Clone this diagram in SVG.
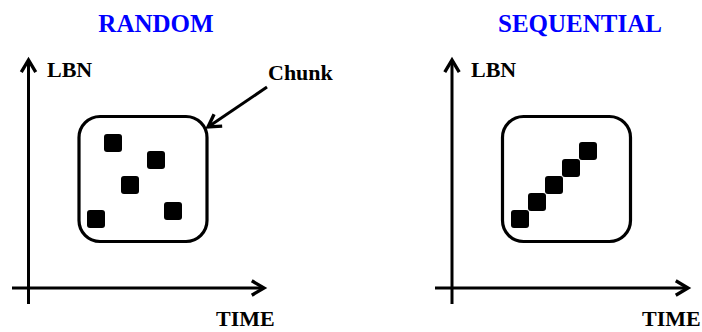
<svg xmlns="http://www.w3.org/2000/svg" width="702" height="332" viewBox="0 0 702 332">
<style>
.title{font-family:"Liberation Serif","Times New Roman",serif;font-weight:bold;font-size:25px;fill:#0000FF}
.lbl{font-family:"Liberation Serif","Times New Roman",serif;font-weight:bold;font-size:22px;fill:#000}
.ln{stroke:#000;stroke-width:3;fill:none}
.box{stroke:#000;stroke-width:3.2;fill:#fff}
.sq{fill:#000}
</style>
<defs>
<marker id="ah" markerUnits="userSpaceOnUse" markerWidth="20" markerHeight="20" viewBox="-14 -9 17 18" refX="0" refY="0" orient="auto">
<path d="M-11,-6.5 L0,0 L-11,6.5" fill="none" stroke="#000" stroke-width="3" stroke-linejoin="miter"/>
</marker>
</defs>
<rect width="702" height="332" fill="#fff"/>
<text class="title" x="156" y="32" text-anchor="middle">RANDOM</text>
<text class="title" x="580" y="32" text-anchor="middle">SEQUENTIAL</text>
<g id="connectors">
<line class="ln" x1="28.5" y1="304" x2="28.5" y2="60" marker-end="url(#ah)"/>
<line class="ln" x1="12" y1="288" x2="264" y2="288" marker-end="url(#ah)"/>
<line class="ln" x1="452" y1="304" x2="452" y2="60" marker-end="url(#ah)"/>
<line class="ln" x1="435" y1="288" x2="688" y2="288" marker-end="url(#ah)"/>
<line class="ln" x1="267" y1="87" x2="208" y2="127" marker-end="url(#ah)"/>
</g>
<g id="axis-labels">
<text class="lbl" x="216" y="326">TIME</text>
<text class="lbl" x="642" y="326" font-size="21">TIME</text>
<text class="lbl" x="47" y="77">LBN</text>
<text class="lbl" x="471" y="77">LBN</text>
<text class="lbl" x="268" y="80">Chunk</text>
</g>
<g id="random-chunk">
<rect class="box" x="79" y="116.5" width="128" height="125" rx="21"/>
<rect class="sq" x="104" y="134" width="18" height="18" rx="3"/>
<rect class="sq" x="147" y="151" width="18" height="18" rx="3"/>
<rect class="sq" x="121" y="176" width="18" height="18" rx="3"/>
<rect class="sq" x="87" y="210" width="18" height="18" rx="3"/>
<rect class="sq" x="164" y="202" width="18" height="18" rx="3"/>
</g>
<g id="sequential-chunk">
<rect class="box" x="502.5" y="116.5" width="128" height="125" rx="21"/>
<rect class="sq" x="511" y="210" width="18" height="18" rx="3"/>
<rect class="sq" x="528" y="193" width="18" height="18" rx="3"/>
<rect class="sq" x="545" y="176" width="18" height="18" rx="3"/>
<rect class="sq" x="562" y="159" width="18" height="18" rx="3"/>
<rect class="sq" x="579" y="142" width="18" height="18" rx="3"/>
</g>
</svg>
